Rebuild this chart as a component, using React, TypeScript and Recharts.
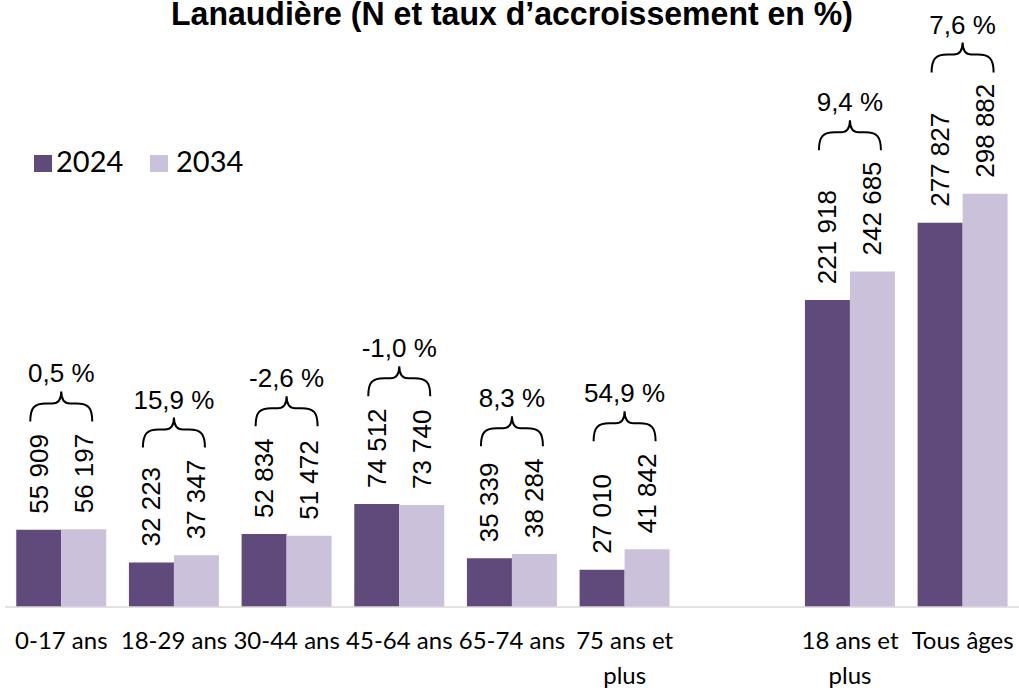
import { Bar, BarChart, LabelList, XAxis, YAxis } from "recharts";

const categories = [
  "0-17 ans",
  "18-29 ans",
  "30-44 ans",
  "45-64 ans",
  "65-74 ans",
  "75 ans et plus",
  "",
  "18 ans et plus",
  "Tous âges",
];
const values2024 = [55909, 32223, 52834, 74512, 35339, 27010, null, 221918, 277827];
const values2034 = [56197, 37347, 51472, 73740, 38284, 41842, null, 242685, 298882];
const growthLabels = ["0,5 %", "15,9 %", "-2,6 %", "-1,0 %", "8,3 %", "54,9 %", null, "9,4 %", "7,6 %"];

const DARK = "#604A7B";
const LIGHT = "#CCC1DA";
const ARIAL = "'Liberation Sans', Arial, sans-serif";
const CALIBRI = "Lato, 'Open Sans', sans-serif";

const data = categories.map((category, i) => ({
  category,
  v2024: values2024[i],
  v2034: values2034[i],
  growth: growthLabels[i],
}));

const fmt = (v: number) => String(v).replace(/\B(?=(\d{3})+(?!\d))/g, " ");

function ValueLabel(props: any) {
  const { x, y, width, value } = props;
  if (value == null) return null;
  const cx = Number(x) + Number(width) / 2;
  const by = Number(y) - 16;
  return (
    <text
      x={cx}
      y={by}
      transform={`rotate(-90 ${cx} ${by})`}
      textAnchor="start"
      dominantBaseline="central"
      fontSize={26}
      fontFamily={ARIAL}
      fill="#000"
    >
      {fmt(value)}
    </text>
  );
}

// brace + growth rate above each pair, placed from the 2034 bar
function BraceLabel(props: any) {
  const { x, y, height, value } = props;
  const row = data.find((r) => r.v2034 === value);
  if (!row || row.v2034 == null || row.v2024 == null) return null;
  const base = Number(y) + Number(height);
  const k = Number(height) / row.v2034;
  const top = Math.min(Number(y), base - row.v2024 * k);
  const longest = Math.max(fmt(row.v2024).length, fmt(row.v2034).length);
  const bottom = top - 16 - longest * 13.3 - 12;
  const h = 30;
  const yT = bottom - h;
  const yM = yT + 12;
  const cx = Number(x);
  const w = 62;
  const x0 = cx - w / 2;
  const x1 = cx + w / 2;
  const q = 16;
  const d = `M ${x0} ${bottom} C ${x0} ${yM + 4} ${x0 + 4} ${yM} ${x0 + q} ${yM} L ${cx - 9} ${yM} Q ${cx} ${yM} ${cx} ${yT} Q ${cx} ${yM} ${cx + 9} ${yM} L ${x1 - q} ${yM} C ${x1 - 4} ${yM} ${x1} ${yM + 4} ${x1} ${bottom}`;
  return (
    <g>
      <path d={d} fill="none" stroke="#000" strokeWidth={2} />
      <text x={cx} y={yT - 9} textAnchor="middle" fontSize={26} fontFamily={ARIAL} fill="#000">
        {row.growth}
      </text>
    </g>
  );
}

function wrap(label: string, max = 10) {
  const lines: string[] = [];
  let cur = "";
  for (const word of label.split(" ")) {
    const next = cur ? cur + " " + word : word;
    if (next.length > max && cur) {
      lines.push(cur);
      cur = word;
    } else {
      cur = next;
    }
  }
  if (cur) lines.push(cur);
  return lines;
}

function CategoryTick(props: any) {
  const { x, y, payload } = props;
  const lines = wrap(String(payload.value || ""));
  return (
    <text x={x} y={y} textAnchor="middle" fontSize={24} fontFamily={CALIBRI} fill="#000">
      {lines.map((line, i) => (
        <tspan key={i} x={x} y={Number(y) + 42 + i * 35}>
          {line}
        </tspan>
      ))}
    </text>
  );
}

export default function App() {
  return (
    <div style={{ position: "absolute", left: 0, top: 0, width: 1019, height: 688, background: "#fff" }}>
      <BarChart
        width={1019}
        height={688}
        data={data}
        margin={{ top: 123, right: 0, bottom: 11, left: 5 }}
        barCategoryGap="10%"
        barGap={0}
      >
        <XAxis
          dataKey="category"
          interval={0}
          tickLine={false}
          tickSize={0}
          tickMargin={0}
          height={70}
          axisLine={{ stroke: "#D9D9D9", strokeWidth: 1.5 }}
          tick={<CategoryTick />}
        />
        <YAxis hide domain={[0, 350000]} />
        <Bar dataKey="v2024" name="2024" fill={DARK} isAnimationActive={false}>
          <LabelList dataKey="v2024" content={<ValueLabel />} />
        </Bar>
        <Bar dataKey="v2034" name="2034" fill={LIGHT} isAnimationActive={false}>
          <LabelList dataKey="v2034" content={<ValueLabel />} />
          <LabelList dataKey="v2034" content={<BraceLabel />} />
        </Bar>
      </BarChart>
      <svg width={1019} height={688} style={{ position: "absolute", left: 0, top: 0, pointerEvents: "none" }}>
        <text
          x={512}
          y={25}
          textAnchor="middle"
          fontSize={34}
          fontWeight="bold"
          fontFamily={ARIAL}
          textLength={682}
          lengthAdjust="spacingAndGlyphs"
          fill="#000"
        >
          Lanaudière (N et taux d’accroissement en %)
        </text>
        <rect x={34} y={155} width={18} height={17} fill={DARK} />
        <text x={56} y={172} fontSize={29} fontFamily={CALIBRI} fill="#000">
          2024
        </text>
        <rect x={150} y={155} width={18} height={17} fill={LIGHT} />
        <text x={176} y={172} fontSize={29} fontFamily={CALIBRI} fill="#000">
          2034
        </text>
      </svg>
    </div>
  );
}
